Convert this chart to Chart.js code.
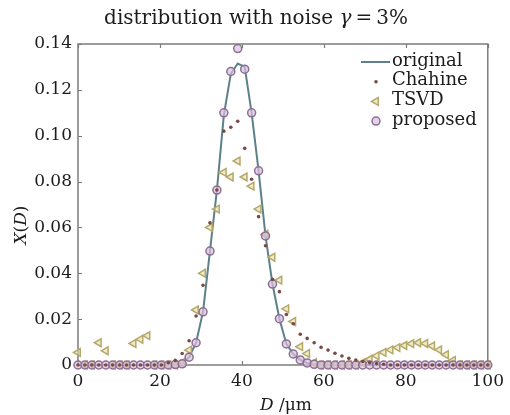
<!DOCTYPE html>
<html>
<head>
<meta charset="utf-8">
<script src="https://cdn.jsdelivr.net/npm/chart.js@4.4.1/dist/chart.umd.min.js"></script>
<style>
	html, body { margin: 0; padding: 0; background: #fff; }
	#caja { width: 510px; height: 415px; }
</style>
</head>
<body>
<div id="caja"><canvas id="grafica" width="510" height="415"></canvas></div>
<script>

// diametros D (um) de la malla de inversion
var diametros = [0, 1.69, 3.39, 5.08, 6.78, 8.47, 10.17, 11.86, 13.56, 15.25,
	16.95, 18.64, 20.34, 22.03, 23.73, 25.42, 27.12, 28.81, 30.51, 32.2,
	33.9, 35.59, 37.29, 38.98, 40.68, 42.37, 44.07, 45.76, 47.46, 49.15,
	50.85, 52.54, 54.24, 55.93, 57.63, 59.32, 61.02, 62.71, 64.41, 66.1,
	67.8, 69.49, 71.19, 72.88, 74.58, 76.27, 77.97, 79.66, 81.36, 83.05,
	84.75, 86.44, 88.14, 89.83, 91.53, 93.22, 94.92, 96.61, 98.31, 100];

var original = [0, 0, 0, 0, 0, 0, 0, 0, 0, 0,
	0, 0, 0, 0, 0.0002, 0.0008, 0.0034, 0.0097, 0.0232, 0.0497,
	0.0763, 0.109, 0.127, 0.1315, 0.130, 0.110, 0.0847, 0.0563, 0.0353, 0.0202,
	0.0092, 0.0048, 0.0022, 0.0009, 0.0003, 0, 0, 0, 0, 0,
	0, 0, 0, 0, 0, 0, 0, 0, 0, 0,
	0, 0, 0, 0, 0, 0, 0, 0, 0, 0];

var chahine = [0, 0, 0, 0, 0, 0, 0, 0, 0, 0,
	0, 0, 0, 0.001, 0.002, 0.005, 0.0106, 0.0214, 0.0348, 0.062,
	0.0763, 0.102, 0.1037, 0.1063, 0.0945, 0.081, 0.0647, 0.052, 0.0374, 0.032,
	0.022, 0.018, 0.0134, 0.0116, 0.0097, 0.0077, 0.0065, 0.0051, 0.0039, 0.0029,
	0.0022, 0.0015, 0.001, 0.0006, 0.0003, 0, 0, 0, 0, 0,
	0, 0, 0, 0, 0, 0, 0, 0, 0, 0];

var tsvd = [0.0055, 0, 0, 0.0097, 0.0062, 0, 0, 0, 0.0094, 0.0112,
	0.0128, 0, 0, 0, 0, 0.001, 0.0065, 0.024, 0.040, 0.060,
	0.068, 0.084, 0.082, 0.089, 0.082, 0.078, 0.068, 0.057, 0.047, 0.037,
	0.0245, 0.019, 0.008, 0.005, 0.001, 0, 0, 0, 0, 0,
	0, 0.001, 0.0025, 0.004, 0.0055, 0.0066, 0.0076, 0.0085, 0.0093, 0.0097,
	0.0094, 0.0083, 0.0066, 0.0045, 0.002, 0, 0, 0, 0, 0];

var propuesto = [0, 0, 0, 0, 0, 0, 0, 0, 0, 0,
	0, 0, 0, 0, 0.0002, 0.0005, 0.0034, 0.0097, 0.0232, 0.0497,
	0.0763, 0.110, 0.128, 0.138, 0.129, 0.110, 0.0847, 0.0563, 0.0353, 0.0202,
	0.0092, 0.0048, 0.0022, 0.0009, 0.0003, 0, 0, 0, 0, 0,
	0, 0, 0, 0, 0, 0, 0, 0, 0, 0,
	0, 0, 0, 0, 0, 0, 0, 0, 0, 0];

var ticksX = [0, 20, 40, 60, 80, 100];
var ticksY = [0, 0.02, 0.04, 0.06, 0.08, 0.10, 0.12, 0.14];

var serif = '"DejaVu Serif", "Liberation Serif", serif';

function puntos(valores)
{
	return diametros.map(function(d, i){ return {x: d, y: valores[i]}; });
}

// escribe trozos de texto con distinta fuente seguidos
function textoMixto(ctx, trozos, x, y)
{
	var ancho = 0;
	trozos.forEach(function(t){ ctx.font = t[1]; ancho += ctx.measureText(t[0]).width; });
	var px = x - ancho / 2;
	trozos.forEach(function(t){
		ctx.font = t[1];
		ctx.fillText(t[0], px, y);
		px += ctx.measureText(t[0]).width;
	});
}

function simbolo(ctx, ds, x, y)
{
	ctx.save();
	if (ds.showLine) {
		ctx.strokeStyle = ds.borderColor;
		ctx.lineWidth = ds.borderWidth;
		ctx.beginPath();
		ctx.moveTo(x - 15, y);
		ctx.lineTo(x + 14, y);
		ctx.stroke();
	} else if (ds.pointStyle === 'triangle') {
		var r = ds.pointRadius;
		ctx.beginPath();
		ctx.moveTo(x - r, y);
		ctx.lineTo(x + r / 2, y - r * 0.866);
		ctx.lineTo(x + r / 2, y + r * 0.866);
		ctx.closePath();
		ctx.fillStyle = ds.pointBackgroundColor;
		ctx.fill();
		ctx.strokeStyle = ds.pointBorderColor;
		ctx.lineWidth = ds.pointBorderWidth;
		ctx.stroke();
	} else {
		ctx.beginPath();
		ctx.arc(x, y, ds.pointRadius, 0, Math.PI * 2);
		ctx.fillStyle = ds.pointBackgroundColor;
		ctx.fill();
		if (ds.pointBorderWidth) {
			ctx.strokeStyle = ds.pointBorderColor;
			ctx.lineWidth = ds.pointBorderWidth;
			ctx.stroke();
		}
	}
	ctx.restore();
}

// marco, marcas interiores, titulos y leyenda
var adornos = {
	id: 'adornos',
	beforeDatasetsDraw: function(chart)
	{
		var a = chart.chartArea, ctx = chart.ctx;
		var ex = chart.scales.x, ey = chart.scales.y;
		ctx.save();
		ctx.strokeStyle = '#7c7c7c';
		ctx.lineWidth = 1.5;
		ctx.strokeRect(a.left, a.top, a.right - a.left, a.bottom - a.top);
		ctx.lineWidth = 1.2;
		ctx.beginPath();
		ticksX.forEach(function(v){
			var px = Math.round(ex.getPixelForValue(v)) + 0.5;
			ctx.moveTo(px, a.bottom); ctx.lineTo(px, a.bottom - 4);
			ctx.moveTo(px, a.top); ctx.lineTo(px, a.top + 4);
		});
		ticksY.forEach(function(v){
			var py = Math.round(ey.getPixelForValue(v)) + 0.5;
			ctx.moveTo(a.left, py); ctx.lineTo(a.left + 4, py);
		});
		ctx.stroke();
		ctx.restore();
	},
	afterDraw: function(chart)
	{
		var ctx = chart.ctx, a = chart.chartArea;
		ctx.save();
		ctx.fillStyle = '#1c1c1c';
		ctx.textBaseline = 'alphabetic';

		textoMixto(ctx, [
			['distribution with noise ', '20px ' + serif],
			['\u03b3', 'italic 20px ' + serif],
			['\u2009=\u20093%', '20px ' + serif]
		], 256, 24);

		textoMixto(ctx, [
			['D', 'italic 17px ' + serif],
			[' /\u03bcm', '17px ' + serif]
		], (a.left + a.right) / 2 + 3, 410);

		ctx.save();
		ctx.translate(26, 225);
		ctx.rotate(-Math.PI / 2);
		textoMixto(ctx, [
			['X', 'italic 17px ' + serif],
			['(', '17px ' + serif],
			['D', 'italic 17px ' + serif],
			[')', '17px ' + serif]
		], 0, 0);
		ctx.restore();

		ctx.font = '18px ' + serif;
		ctx.textBaseline = 'middle';
		ctx.textAlign = 'left';
		chart.data.datasets.forEach(function(ds, i){
			var y = 61 + i * 19.7;
			simbolo(ctx, ds, 376, y + 1);
			ctx.fillStyle = '#1c1c1c';
			ctx.fillText(ds.label, 392, y);
		});
		ctx.restore();
	}
};

var lienzo = document.getElementById('grafica').getContext('2d');

window.grafica = new Chart(lienzo, {
	type: 'scatter',
	data: {
		datasets: [{
			label: 'original',
			data: puntos(original),
			showLine: true,
			borderColor: '#5d8189',
			borderWidth: 2,
			pointRadius: 0,
			tension: 0,
			clip: false,
			order: 3
		},
		{
			label: 'Chahine',
			data: puntos(chahine),
			pointRadius: 1.8,
			pointBackgroundColor: '#7a4944',
			pointBorderColor: '#7a4944',
			pointBorderWidth: 0,
			clip: false,
			order: 0
		},
		{
			label: 'TSVD',
			data: puntos(tsvd),
			pointStyle: 'triangle',
			pointRotation: -90,
			pointRadius: 4.5,
			pointBackgroundColor: 'rgba(228, 220, 165, 0.6)',
			pointBorderColor: '#b5a968',
			pointBorderWidth: 1.5,
			clip: false,
			order: 2
		},
		{
			label: 'proposed',
			data: puntos(propuesto),
			pointStyle: 'circle',
			pointRadius: 4,
			pointBackgroundColor: 'rgba(216, 192, 224, 0.7)',
			pointBorderColor: '#8d6e93',
			pointBorderWidth: 1.5,
			clip: false,
			order: 1
		}]
	},
	options: {
		responsive: false,
		animation: false,
		devicePixelRatio: 1,
		layout: { padding: { top: 44, right: 20, left: 0, bottom: 0 } },
		plugins: {
			legend: { display: false },
			tooltip: { enabled: false }
		},
		scales: {
			x: {
				type: 'linear',
				min: 0,
				max: 100,
				grid: { display: false, drawTicks: false },
				border: { display: false },
				afterBuildTicks: function(scale){ scale.ticks = ticksX.map(function(v){ return {value: v}; }); },
				afterFit: function(scale){ scale.height = 50; },
				ticks: {
					padding: 6,
					color: '#1c1c1c',
					font: { family: serif, size: 17 },
					maxRotation: 0
				}
			},
			y: {
				min: 0,
				max: 0.14,
				grid: { display: false, drawTicks: false },
				border: { display: false },
				afterBuildTicks: function(scale){ scale.ticks = ticksY.map(function(v){ return {value: v}; }); },
				afterFit: function(scale){ scale.width = 78; },
				ticks: {
					padding: 6,
					color: '#1c1c1c',
					font: { family: serif, size: 17 },
					callback: function(v){ return v === 0 ? '0' : v.toFixed(2); }
				}
			}
		}
	},
	plugins: [adornos]
});

</script>
</body>
</html>
